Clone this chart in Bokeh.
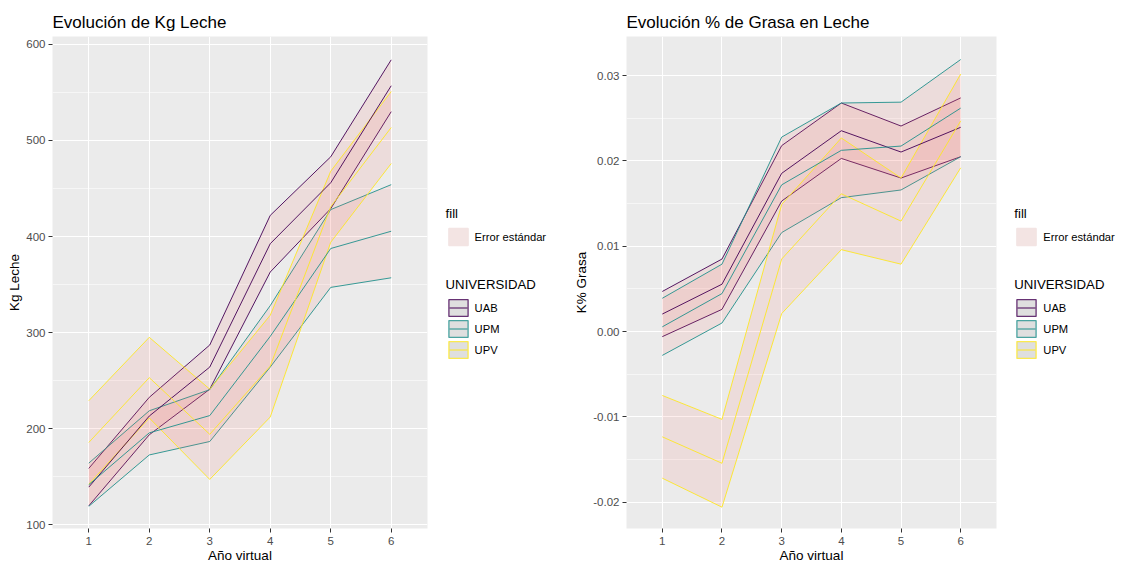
from bokeh.plotting import figure
from bokeh.layouts import row
from bokeh.models import Range1d, FixedTicker, PrintfTickFormatter, Legend, LegendItem
from bokeh.core.properties import value
from bokeh.embed import file_html
from bokeh.resources import INLINE

# ---------------- data ----------------
years = [1, 2, 3, 4, 5, 6]
universities = ["UAB", "UPM", "UPV"]
uni_colors = ["#440154", "#21908C", "#FDE725"]

kg_uab_mean = [139, 213, 264, 392.5, 456, 557]
kg_uab_se = [19.5, 19.5, 23, 29.5, 27, 27]
kg_upm_mean = [141.5, 195.5, 213.5, 296, 387.5, 405.5]
kg_upm_se = [22.5, 23, 27, 32, 40.5, 48.5]
kg_upv_mean = [185.5, 253, 194, 265, 431, 513.5]
kg_upv_se = [43.5, 42, 47, 53, 37, 37.5]

gr_uab_mean = [0.00205, 0.00555, 0.01855, 0.02355, 0.02105, 0.02395]
gr_uab_se = [0.00265, 0.00295, 0.00325, 0.00325, 0.00305, 0.00345]
gr_upm_mean = [0.00055, 0.00445, 0.0172, 0.02125, 0.02175, 0.0262]
gr_upm_se = [0.00335, 0.00345, 0.0056, 0.00555, 0.00515, 0.0057]
gr_upv_mean = [-0.01235, -0.01545, 0.0085, 0.01615, 0.01295, 0.0247]
gr_upv_se = [0.00485, 0.00515, 0.0064, 0.00655, 0.00505, 0.0055]

kg_ticks = [100, 200, 300, 400, 500, 600]
kg_minor = [150, 250, 350, 450, 550]
gr_ticks = [-0.02, -0.01, 0.0, 0.01, 0.02, 0.03]
gr_minor = [-0.015, -0.005, 0.005, 0.015, 0.025]

FONT = "Liberation Sans"
H = 565


def make_panel(title, xlabel, ylabel, means, ses, yr, yticks, yminor, fmt, width, bleft, bright):
    p = figure(width=width, height=H, x_range=Range1d(0.4, 6.6), y_range=Range1d(*yr),
               output_backend="svg", toolbar_location=None,
               min_border_left=bleft, min_border_right=bright, min_border_top=36,
               min_border_bottom=34)
    p.background_fill_color = "#EBEBEB"
    p.border_fill_color = "white"
    p.outline_line_color = None

    p.title.text = title
    p.title.text_font = FONT
    p.title.text_font_size = "17px"
    p.title.text_font_style = "normal"
    p.title.text_color = "black"
    p.title.align = "left"
    p.title.offset = 0
    p.title.standoff = 9

    for m, s, col in zip(means, ses, uni_colors):
        lo = [a - b for a, b in zip(m, s)]
        hi = [a + b for a, b in zip(m, s)]
        p.varea(x=years, y1=lo, y2=hi, fill_color="#F8766D", fill_alpha=0.12)
        p.line(years, hi, line_color=col, line_width=1, line_alpha=0.9)
        p.line(years, lo, line_color=col, line_width=1, line_alpha=0.9)
    for m, col in zip(means, uni_colors):
        p.line(years, m, line_color=col, line_width=1, line_alpha=0.9)

    p.xaxis.ticker = FixedTicker(ticks=years, minor_ticks=[])
    p.yaxis.ticker = FixedTicker(ticks=yticks, minor_ticks=yminor)
    if fmt:
        p.yaxis.formatter = PrintfTickFormatter(format=fmt)
    p.xaxis.axis_label = xlabel
    p.yaxis.axis_label = ylabel

    p.grid.grid_line_color = "white"
    p.grid.grid_line_width = 1.1
    p.ygrid.minor_grid_line_color = "white"
    p.ygrid.minor_grid_line_width = 0.55

    for ax in p.axis:
        ax.axis_line_color = None
        ax.major_tick_line_color = "#333333"
        ax.major_tick_out = 4
        ax.major_tick_in = 0
        ax.minor_tick_line_color = None
        ax.major_label_text_color = "#4D4D4D"
        ax.major_label_text_font = FONT
        ax.major_label_text_font_size = "11.5px"
        ax.major_label_standoff = 3
        ax.axis_label_text_font = FONT
        ax.axis_label_text_font_size = "13.5px"
        ax.axis_label_text_font_style = "normal"
        ax.axis_label_text_color = "black"
        ax.axis_label_standoff = 1
    p.xaxis.major_label_standoff = 4
    p.xaxis.axis_label_standoff = 0
    return p


def style_legend(lg):
    lg.title_text_font = FONT
    lg.title_text_font_size = "13.2px"
    lg.title_text_font_style = "normal"
    lg.title_text_color = "black"
    lg.title_standoff = 5
    lg.label_text_font = FONT
    lg.label_text_font_size = "11.2px"
    lg.label_text_color = "black"
    lg.glyph_width = 24
    lg.glyph_height = 21
    lg.label_height = 21
    lg.label_standoff = 5
    lg.spacing = 0
    lg.padding = 0
    lg.margin = 0
    lg.border_line_color = None
    lg.background_fill_alpha = 0


def make_legend_fig(width, x0):
    p = figure(width=width, height=H, x_range=Range1d(0, 1), y_range=Range1d(0, 1),
               output_backend="svg", toolbar_location=None,
               x_axis_location=None, y_axis_location=None, min_border=0)
    p.outline_line_color = None
    p.background_fill_color = "white"
    p.border_fill_color = "white"
    p.xgrid.visible = False
    p.ygrid.visible = False

    # key glyphs live outside the visible range; only their legend keys show
    r_fill = p.quad(left=[5], right=[6], bottom=[5], top=[6], fill_color="#F3E4E3",
                    line_color="#F3E4E3", line_width=1.5)
    leg1 = Legend(items=[LegendItem(label=value("Error estándar"), renderers=[r_fill])],
                  title="fill", location=(x0, 281))
    items = []
    for uni, col in zip(universities, uni_colors):
        rb = p.quad(left=[5], right=[6], bottom=[5], top=[6], fill_color="#DFDFDF",
                    line_color=col, line_width=1.3, line_alpha=0.8)
        rl = p.line(x=[5, 6], y=[5, 6], line_color=col, line_width=1.2, line_dash="0 3 18 10")
        items.append(LegendItem(label=value(uni), renderers=[rb, rl]))
    leg2 = Legend(items=items, title="UNIVERSIDAD", location=(x0, 168))
    for lg in (leg1, leg2):
        style_legend(lg)
        p.add_layout(lg)
    return p


pA = make_panel("Evolución de Kg Leche", "Año virtual", "Kg Leche",
                [kg_uab_mean, kg_upm_mean, kg_upv_mean],
                [kg_uab_se, kg_upm_se, kg_upv_se],
                (95.9, 608.3), kg_ticks, kg_minor, None, 440, 52, 13)
pB = make_legend_fig(126, 5.6)
pC = make_panel("Evolución % de Grasa en Leche", "Año virtual", "K% Grasa",
                [gr_uab_mean, gr_upm_mean, gr_upv_mean],
                [gr_uab_se, gr_upm_se, gr_upv_se],
                (-0.0231, 0.0346), gr_ticks, gr_minor, "%.2f", 439, 60, 9)
pD = make_legend_fig(116, 9.3)

layout = row(pA, pB, pC, pD, spacing=0)
open("out.html", "w").write(file_html(layout, INLINE))
